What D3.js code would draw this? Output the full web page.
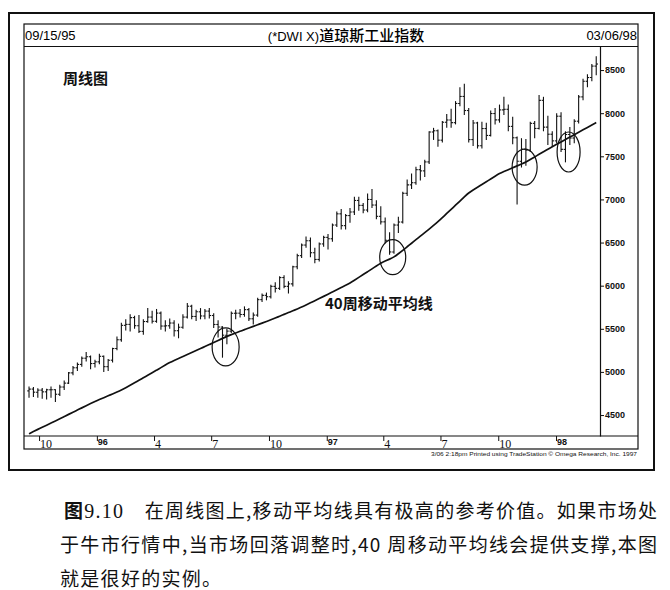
<!DOCTYPE html>
<html>
<head>
<meta charset="utf-8">
<script src="https://cdn.jsdelivr.net/npm/d3@7"></script>
<style>
  body { margin: 0; background: #fff; }
  svg { display: block; }
  .hdr { font-family: "Liberation Sans", Arial, sans-serif; font-size: 13px; }
  .cjk { font-family: "Noto Sans CJK SC", sans-serif; }
</style>
</head>
<body>
<svg id="chart" width="670" height="590"></svg>
<script>
// weekly bars, Fridays from 09/15/95 to 03/06/98
var firstWeek = new Date(1995, 8, 15);
var lastWeek = new Date(1998, 2, 6);
var weeks = d3.timeFriday.range(firstWeek, d3.timeDay.offset(lastWeek, 1));

var opens = [4780,4801,4765,4789,4769,4793,4794,4741,4825,4870,
  4989,5048,5087,5159,5176,5097,5117,5181,5061,5136,
  5271,5373,5540,5551,5630,5536,5470,5584,5636,5587,
  5682,5532,5535,5567,5478,5518,5636,5762,5643,5697,
  5649,5705,5654,5550,5520,5426,5473,5680,5681,5666,
  5722,5616,5659,5838,5888,5872,5992,5969,6094,5992,
  6021,6219,6348,6471,6521,6382,6304,6484,6560,6544,
  6703,6833,6696,6813,6855,6988,6931,6877,7000,6935,
  6804,6740,6526,6391,6703,6738,7071,7169,7194,7345,
  7331,7435,7782,7796,7687,7895,7921,7890,8113,8194,
  8031,7694,7887,7622,7822,7742,7996,7922,8038,8045,
  7847,7715,7442,7581,7572,7882,7823,8149,7838,7756,
  7679,7965,7580,7753,7712,7907,8189,8370,8413,8546];
var highs = [4830,4825,4810,4815,4805,4830,4800,4850,4900,5000,
  5070,5110,5180,5230,5190,5140,5210,5190,5150,5280,
  5410,5570,5610,5670,5650,5660,5610,5740,5710,5730,
  5700,5600,5620,5600,5560,5670,5800,5780,5720,5740,
  5730,5740,5680,5600,5530,5500,5700,5720,5730,5760,
  5740,5690,5860,5910,5920,6010,6040,6110,6120,6050,
  6230,6370,6490,6570,6560,6440,6500,6580,6600,6720,
  6860,6890,6830,6900,7030,7030,6960,7070,7120,6990,
  6920,6790,6620,6720,6800,7090,7230,7300,7380,7400,
  7460,7790,7830,7810,7910,7990,8050,8140,8300,8340,
  8060,7920,7900,7900,7890,8030,8060,8100,8190,8100,
  7960,7730,7710,7700,7900,7910,8210,8190,7970,7790,
  8000,8010,7790,7840,7930,8210,8400,8450,8570,8660];
var lows = [4700,4710,4700,4690,4680,4700,4650,4720,4790,4860,
  4960,5010,5060,5120,5030,5050,5090,5000,5010,5110,
  5250,5350,5480,5470,5500,5450,5430,5570,5560,5570,
  5490,5470,5500,5410,5390,5500,5620,5610,5590,5610,
  5610,5620,5510,5400,5165,5320,5450,5610,5630,5640,
  5590,5550,5640,5810,5830,5850,5920,5950,5970,5910,
  5990,6190,6320,6440,6330,6260,6280,6450,6420,6510,
  6680,6650,6650,6730,6820,6870,6840,6850,6900,6770,
  6710,6490,6360,6370,6610,6720,7040,7120,7170,7220,
  7260,7410,7690,7610,7660,7830,7830,7870,8080,7980,
  7660,7620,7590,7590,7690,7730,7870,7890,7980,7790,
  7640,6940,7370,7390,7550,7710,7810,7790,7630,7610,
  7650,7550,7430,7630,7650,7880,8150,8300,8370,8440];
var closes = [4801,4765,4789,4769,4793,4794,4741,4825,4870,4989,
  5048,5087,5159,5176,5097,5117,5181,5061,5136,5271,
  5373,5540,5551,5630,5536,5470,5584,5636,5587,5682,
  5532,5535,5567,5478,5518,5636,5762,5643,5697,5649,
  5705,5654,5550,5520,5426,5473,5680,5681,5666,5722,
  5616,5659,5838,5888,5872,5992,5969,6094,5992,6021,
  6219,6348,6471,6521,6382,6304,6484,6560,6544,6703,
  6833,6696,6813,6855,6988,6931,6877,7000,6935,6804,
  6740,6526,6391,6703,6738,7071,7169,7194,7345,7331,
  7435,7782,7796,7687,7895,7921,7890,8113,8194,8031,
  7694,7887,7622,7822,7742,7996,7922,8038,8045,7847,
  7715,7442,7581,7572,7882,7823,8149,7838,7756,7679,
  7965,7580,7753,7712,7907,8189,8370,8413,8546,8570];
// 40-week moving average
var ma40 = [4283,4309,4334,4358,4383,4407,4431,4456,4482,4508,
  4533,4558,4583,4608,4633,4657,4680,4701,4723,4745,
  4767,4790,4817,4845,4874,4903,4932,4961,4990,5020,
  5050,5080,5109,5133,5156,5179,5202,5225,5248,5271,
  5294,5317,5340,5364,5389,5413,5433,5452,5471,5490,
  5509,5528,5547,5566,5585,5604,5625,5646,5667,5688,
  5709,5730,5751,5776,5801,5826,5851,5876,5901,5927,
  5953,5979,6005,6031,6063,6096,6129,6162,6195,6229,
  6262,6285,6308,6331,6370,6410,6451,6492,6533,6574,
  6615,6656,6698,6741,6789,6837,6885,6933,6981,7029,
  7077,7109,7141,7173,7205,7237,7269,7301,7323,7345,
  7367,7389,7411,7433,7463,7493,7523,7553,7583,7611,
  7639,7667,7695,7723,7751,7779,7807,7835,7863,7891];

var monthTicks = [new Date(1995,9,1), new Date(1996,0,1), new Date(1996,3,1),
  new Date(1996,6,1), new Date(1996,9,1), new Date(1997,0,1), new Date(1997,3,1),
  new Date(1997,6,1), new Date(1997,9,1), new Date(1998,0,1)];
var monthLabels = ["10","96","4","7","10","97","4","7","10","98"];
var priceTicks = [4500,5000,5500,6000,6500,7000,7500,8000,8500];

// pullbacks to the average that are circled: centre date and price
var ringDates = [new Date(1996,6,24), new Date(1997,3,16), new Date(1997,10,12), new Date(1998,0,21)];
var ringPrices = [5290, 6330, 7375, 7550];

var svg = d3.select("#chart");
var ink = "#111";

var x = d3.scaleTime()
  .domain([new Date(1995,8,7), new Date(1998,2,12)])
  .range([24, 600]);
var y = d3.scaleLinear()
  .domain([4257, 8779])
  .range([436, 46]);

// frames
svg.append("rect").attr("x", 9).attr("y", 13).attr("width", 645).attr("height", 457)
  .attr("fill", "none").attr("stroke", ink).attr("stroke-width", 2);
svg.append("rect").attr("x", 24).attr("y", 24).attr("width", 614).attr("height", 425)
  .attr("fill", "none").attr("stroke", ink).attr("stroke-width", 1.2);
svg.append("line").attr("x1", 24).attr("x2", 638).attr("y1", 46.5).attr("y2", 46.5)
  .attr("stroke", ink).attr("stroke-width", 1.2);
svg.append("line").attr("x1", 24).attr("x2", 638).attr("y1", 436).attr("y2", 436)
  .attr("stroke", ink).attr("stroke-width", 1.2);

// header
svg.append("text").attr("class", "hdr").attr("x", 25).attr("y", 40).text("09/15/95");
svg.append("text").attr("class", "hdr").attr("x", 637).attr("y", 40)
  .attr("text-anchor", "end").text("03/06/98");
var ttl = svg.append("text").attr("x", 346).attr("y", 41).attr("text-anchor", "middle");
ttl.append("tspan").attr("class", "hdr").attr("font-size", 14).text("(*DWI X)");
ttl.append("tspan").attr("class", "cjk").attr("font-size", 15).attr("font-weight", 500).text("道琼斯工业指数");

// axes
var xAxis = svg.append("g")
  .attr("transform", "translate(0,436)")
  .call(d3.axisBottom(x).tickValues(monthTicks)
    .tickFormat(function (d, i) { return monthLabels[i]; })
    .tickSize(5).tickSizeOuter(0));
xAxis.select(".domain").remove();
xAxis.selectAll(".tick line").attr("stroke", ink);
xAxis.selectAll(".tick text")
  .attr("text-anchor", "start").attr("x", 0.5).attr("y", 3).attr("dy", "0.71em")
  .attr("fill", ink)
  .attr("font-family", function (d) { return d.getMonth() === 0 ? "Liberation Sans, Arial, sans-serif" : "Liberation Serif, serif"; })
  .attr("font-weight", function (d) { return d.getMonth() === 0 ? "bold" : "normal"; })
  .attr("font-size", function (d) { return d.getMonth() === 0 ? 9 : 12; });

var yAxis = svg.append("g")
  .attr("transform", "translate(600,0)")
  .call(d3.axisRight(y).tickValues(priceTicks).tickFormat(d3.format("d"))
    .tickSize(4).tickSizeOuter(0).tickPadding(1));
yAxis.select(".domain").attr("stroke", ink).attr("stroke-width", 1.2);
yAxis.selectAll(".tick line").attr("stroke", ink);
yAxis.selectAll(".tick text")
  .attr("fill", ink)
  .attr("font-family", "Liberation Sans, Arial, sans-serif")
  .attr("font-weight", "bold")
  .attr("font-size", 9);

// weekly OHLC bars
var bars = svg.append("g").attr("stroke", ink).attr("stroke-width", 1.1);
var bar = bars.selectAll("g").data(weeks).enter().append("g");
bar.append("line")
  .attr("x1", function (d) { return x(d); }).attr("x2", function (d) { return x(d); })
  .attr("y1", function (d, i) { return y(highs[i]); })
  .attr("y2", function (d, i) { return y(lows[i]); });
bar.append("line")
  .attr("x1", function (d) { return x(d) - 1.8; }).attr("x2", function (d) { return x(d); })
  .attr("y1", function (d, i) { return y(opens[i]); })
  .attr("y2", function (d, i) { return y(opens[i]); });
bar.append("line")
  .attr("x1", function (d) { return x(d); }).attr("x2", function (d) { return x(d) + 1.8; })
  .attr("y1", function (d, i) { return y(closes[i]); })
  .attr("y2", function (d, i) { return y(closes[i]); });

// 40 week average
var avgLine = d3.line()
  .x(function (d, i) { return x(weeks[i]); })
  .y(function (d) { return y(d); })
  .curve(d3.curveBasis);
svg.append("path").datum(ma40)
  .attr("d", avgLine)
  .attr("fill", "none").attr("stroke", ink).attr("stroke-width", 1.7);

// circled touches
var ringRx = [13.5, 13, 12.5, 11.5];
var ringRy = [19, 17.5, 18, 20];
svg.append("g").selectAll("ellipse").data(ringDates).enter().append("ellipse")
  .attr("cx", function (d) { return x(d); })
  .attr("cy", function (d, i) { return y(ringPrices[i]); })
  .attr("rx", function (d, i) { return ringRx[i]; })
  .attr("ry", function (d, i) { return ringRy[i]; })
  .attr("fill", "none").attr("stroke", ink).attr("stroke-width", 1.2);

// labels inside the chart
svg.append("text").attr("class", "cjk").attr("x", 63).attr("y", 84)
  .attr("font-size", 15).attr("font-weight", "bold").attr("fill", ink).text("周线图");
svg.append("text").attr("class", "cjk").attr("x", 325).attr("y", 309)
  .attr("font-size", 15).attr("font-weight", "bold").attr("fill", ink).text("40周移动平均线");

svg.append("text").attr("x", 637).attr("y", 456).attr("text-anchor", "end")
  .attr("font-family", "Liberation Sans, Arial, sans-serif").attr("font-size", 6)
  .attr("textLength", 206).attr("lengthAdjust", "spacingAndGlyphs").attr("fill", ink)
  .text("3/06  2:18pm Printed using TradeStation \u00a9 Omega Research, Inc. 1997");

// caption
var cap1 = svg.append("text").attr("class", "cjk").attr("x", 64).attr("y", 518)
  .attr("font-size", 19).attr("textLength", 593).attr("lengthAdjust", "spacing").attr("fill", ink);
cap1.append("tspan").attr("font-weight", "bold").text("图");
cap1.append("tspan").attr("font-family", "Liberation Serif, serif").attr("font-size", 20).text("9.10");
cap1.append("tspan").text("\u3000在周线图上,移动平均线具有极高的参考价值。如果市场处");
svg.append("text").attr("class", "cjk").attr("x", 60).attr("y", 552)
  .attr("font-size", 19).attr("textLength", 597).attr("lengthAdjust", "spacing").attr("fill", ink)
  .text("于牛市行情中,当市场回落调整时,40 周移动平均线会提供支撑,本图");
svg.append("text").attr("class", "cjk").attr("x", 60).attr("y", 586)
  .attr("font-size", 19).attr("letter-spacing", 1.3).attr("fill", ink)
  .text("就是很好的实例。");
</script>
</body>
</html>
